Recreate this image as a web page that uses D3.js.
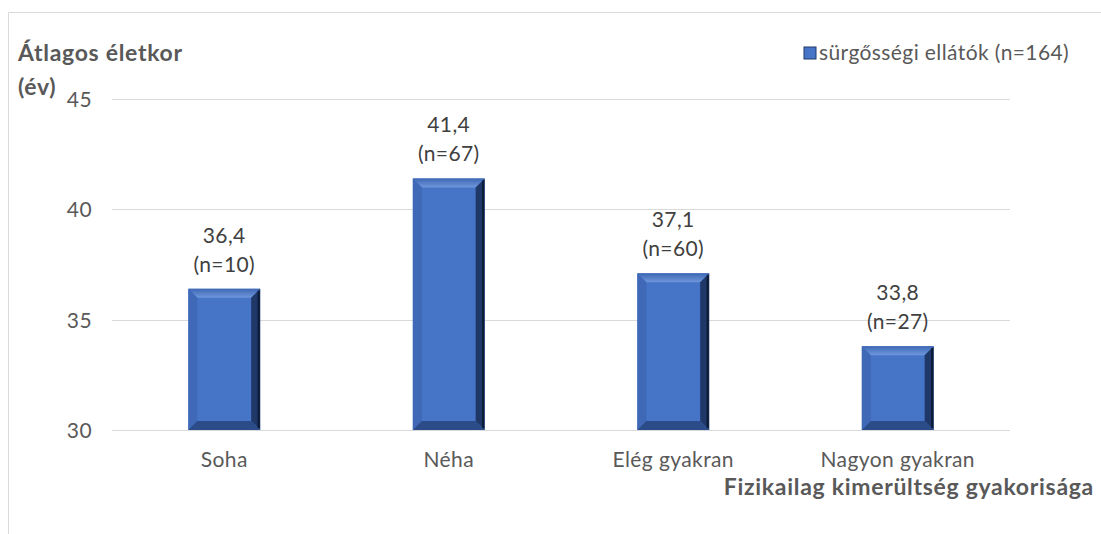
<!DOCTYPE html>
<html>
<head>
<meta charset="utf-8">
<script src="https://cdn.jsdelivr.net/npm/d3@7"></script>
<style>
  body { margin: 0; background: #fff; }
  svg { display: block; font-family: Lato, "Open Sans", sans-serif; }
</style>
</head>
<body>
<div id="chart"></div>
<script>
// chart data
var categories = ["Soha", "Néha", "Elég gyakran", "Nagyon gyakran"];
var means = [36.4, 41.4, 37.1, 33.8];
var counts = [10, 67, 60, 27];
var yTicks = [30, 35, 40, 45];
var seriesName = "sürgősségi ellátók (n=164)";

var width = 1101;
var height = 534;
var margin = { top: 99, right: 91, bottom: 104, left: 112 };

var svg = d3.select("#chart").append("svg")
    .attr("width", width)
    .attr("height", height);

// outer frame (left + top visible)
svg.append("path")
    .attr("d", "M8.5," + height + "V12.5H" + width)
    .attr("fill", "none")
    .attr("stroke", "#d9d9d9")
    .attr("stroke-width", 1);

var x = d3.scaleBand()
    .domain(categories)
    .range([margin.left, width - margin.right])
    .paddingInner(0.68)
    .paddingOuter(0.34);

var y = d3.scaleLinear()
    .domain([30, 45])
    .range([height - margin.bottom, margin.top]);

var defs = svg.append("defs");
var topGrad = defs.append("linearGradient").attr("id", "topFacet")
    .attr("x1", 0).attr("y1", 0).attr("x2", 0).attr("y2", 1);
topGrad.append("stop").attr("offset", 0).attr("stop-color", "#3e68b4");
topGrad.append("stop").attr("offset", 1).attr("stop-color", "#6f97dc");

// gridlines
svg.append("g")
    .selectAll("line")
    .data(yTicks)
    .join("line")
    .attr("x1", margin.left)
    .attr("x2", width - margin.right)
    .attr("y1", function (d) { return Math.round(y(d)) + 0.5; })
    .attr("y2", function (d) { return Math.round(y(d)) + 0.5; })
    .attr("stroke", "#d9d9d9")
    .attr("stroke-width", 1);

// y tick labels
svg.append("g")
    .selectAll("text")
    .data(yTicks)
    .join("text")
    .attr("x", 92)
    .attr("y", function (d) { return y(d) + 8; })
    .attr("text-anchor", "end")
    .attr("fill", "#595959")
    .style("font-size", "21px")
    .style("letter-spacing", "0.4px")
    .text(function (d) { return d; });

// x category labels
svg.append("g")
    .selectAll("text")
    .data(categories)
    .join("text")
    .attr("x", function (d) { return x(d) + x.bandwidth() / 2; })
    .attr("y", y(30) + 37)
    .attr("text-anchor", "middle")
    .attr("fill", "#595959")
    .style("font-size", "21px")
    .style("letter-spacing", "0.4px")
    .text(function (d) { return d; });

// bars with a bevel look
var data = categories.map(function (c, i) {
    return { cat: c, value: means[i], n: counts[i] };
});

var bars = svg.append("g").selectAll("g")
    .data(data)
    .join("g");

function bevel(d) {
    var x0 = x(d.cat), x1 = x0 + x.bandwidth();
    var y0 = y(d.value), y1 = y(30);
    return { x0: x0, x1: x1, y0: y0, y1: y1, b: 9 };
}

bars.append("rect")
    .attr("x", function (d) { return x(d.cat); })
    .attr("y", function (d) { return y(d.value); })
    .attr("width", x.bandwidth())
    .attr("height", function (d) { return y(30) - y(d.value); })
    .attr("fill", "#4674c6");

// top facet
bars.append("polygon")
    .attr("points", function (d) {
        var k = bevel(d);
        return [[k.x0, k.y0], [k.x1, k.y0], [k.x1 - k.b, k.y0 + k.b], [k.x0 + k.b, k.y0 + k.b]].join(" ");
    })
    .attr("fill", "url(#topFacet)");
// left facet
bars.append("polygon")
    .attr("points", function (d) {
        var k = bevel(d);
        return [[k.x0, k.y0], [k.x0 + k.b, k.y0 + k.b], [k.x0 + k.b, k.y1 - k.b], [k.x0, k.y1]].join(" ");
    })
    .attr("fill", "#3f69b6");
// right facet
bars.append("polygon")
    .attr("points", function (d) {
        var k = bevel(d);
        return [[k.x1, k.y0], [k.x1, k.y1], [k.x1 - k.b, k.y1 - k.b], [k.x1 - k.b, k.y0 + k.b]].join(" ");
    })
    .attr("fill", "#1f3868");
// bottom facet
bars.append("polygon")
    .attr("points", function (d) {
        var k = bevel(d);
        return [[k.x0, k.y1], [k.x0 + k.b, k.y1 - k.b], [k.x1 - k.b, k.y1 - k.b], [k.x1, k.y1]].join(" ");
    })
    .attr("fill", "#2b4c88");
// dark edge line on the right
bars.append("line")
    .attr("x1", function (d) { return x(d.cat) + x.bandwidth() - 1.5; })
    .attr("x2", function (d) { return x(d.cat) + x.bandwidth() - 1.5; })
    .attr("y1", function (d) { return y(d.value) + 2; })
    .attr("y2", y(30) - 2)
    .attr("stroke", "#0c1a33")
    .attr("stroke-width", 2);

// value labels
bars.append("text")
    .attr("x", function (d) { return x(d.cat) + x.bandwidth() / 2; })
    .attr("y", function (d) { return y(d.value) - 46; })
    .attr("text-anchor", "middle")
    .attr("fill", "#404040")
    .style("font-size", "21px")
    .style("letter-spacing", "0.4px")
    .text(function (d) { return String(d.value).replace(".", ","); });

bars.append("text")
    .attr("x", function (d) { return x(d.cat) + x.bandwidth() / 2; })
    .attr("y", function (d) { return y(d.value) - 17; })
    .attr("text-anchor", "middle")
    .attr("fill", "#404040")
    .style("font-size", "21px")
    .style("letter-spacing", "0.4px")
    .text(function (d) { return "(n=" + d.n + ")"; });

// axis titles
svg.append("text")
    .attr("x", 18)
    .attr("y", 61)
    .attr("fill", "#595959")
    .style("font-size", "23px")
    .style("font-weight", "bold")
    .style("letter-spacing", "0.7px")
    .text("Átlagos életkor");

svg.append("text")
    .attr("x", 18)
    .attr("y", 95)
    .attr("fill", "#595959")
    .style("font-size", "23px")
    .style("font-weight", "bold")
    .style("letter-spacing", "0.7px")
    .text("(év)");

svg.append("text")
    .attr("x", 1094)
    .attr("y", 495)
    .attr("text-anchor", "end")
    .attr("fill", "#595959")
    .style("font-size", "23px")
    .style("font-weight", "bold")
    .style("letter-spacing", "0.7px")
    .text("Fizikailag kimerültség gyakorisága");

// legend
var legend = svg.append("g").attr("transform", "translate(804,53)");
legend.append("rect")
    .attr("x", 0).attr("y", -6)
    .attr("width", 12).attr("height", 12)
    .attr("fill", "#4674c6")
    .attr("stroke", "#1f3868")
    .attr("stroke-width", 1);
legend.append("text")
    .attr("x", 15)
    .attr("y", 7)
    .attr("fill", "#595959")
    .style("font-size", "21px")
    .style("letter-spacing", "0.4px")
    .text(seriesName);
</script>
</body>
</html>
